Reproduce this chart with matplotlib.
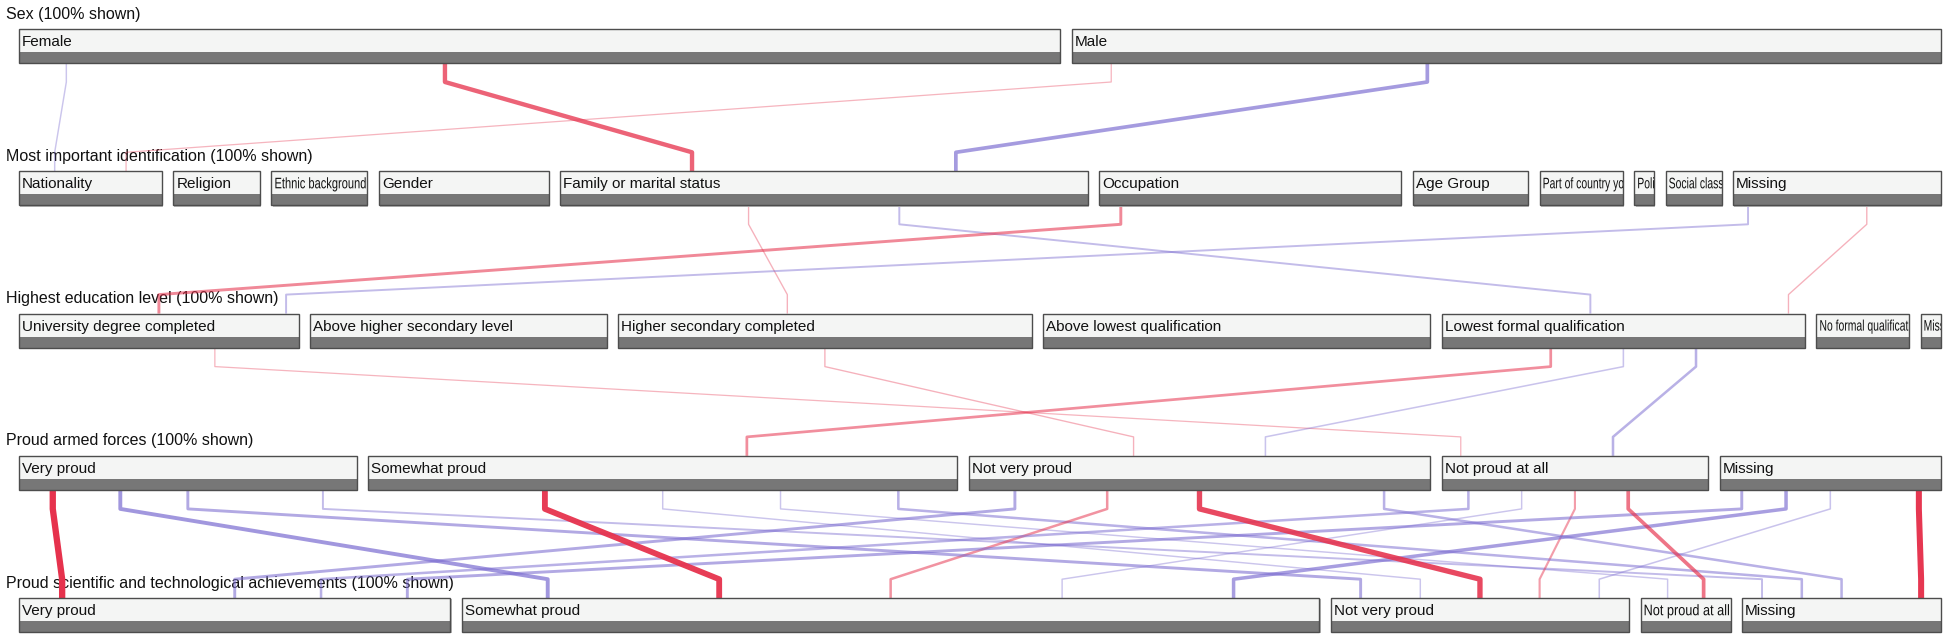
import matplotlib
matplotlib.use("Agg")
import matplotlib.pyplot as plt
from matplotlib.patches import Rectangle
from matplotlib.patheffects import AbstractPathEffect
from matplotlib.transforms import Affine2D
from matplotlib import font_manager

# dimensions (rows) and their categories, values in % of respondents
dims = ["Sex", "Most important identification", "Highest education level",
        "Proud armed forces", "Proud scientific and technological achievements"]

sex_cats = ["Female", "Male"]
sex_pct = [54.5, 45.5]

ident_cats = ["Nationality", "Religion", "Ethnic background", "Gender",
              "Family or marital status", "Occupation", "Age Group",
              "Part of country you live in", "Political party", "Social class", "Missing"]
ident_pct = [7.9, 4.8, 5.3, 9.4, 29.2, 16.7, 6.4, 4.6, 1.1, 3.1, 11.5]

edu_cats = ["University degree completed", "Above higher secondary level",
            "Higher secondary completed", "Above lowest qualification",
            "Lowest formal qualification", "No formal qualification", "Missing"]
edu_pct = [15.1, 16.0, 22.3, 20.9, 19.6, 5.0, 1.1]

armed_cats = ["Very proud", "Somewhat proud", "Not very proud", "Not proud at all", "Missing"]
armed_pct = [18.0, 31.4, 24.6, 14.2, 11.8]

sci_cats = ["Very proud", "Somewhat proud", "Not very proud", "Not proud at all", "Missing"]
sci_pct = [23.0, 45.7, 15.9, 4.8, 10.6]

# strongest links between neighbouring rows: (from, to, residual)
# positive = over-represented (red), negative = under-represented (purple)
links_sex_ident = [
    ("Female", "Nationality", -1.5),
    ("Female", "Family or marital status", 4.5),
    ("Male", "Nationality", 1.3),
    ("Male", "Family or marital status", -3.8),
]
links_ident_edu = [
    ("Family or marital status", "Higher secondary completed", 1.4),
    ("Family or marital status", "Lowest formal qualification", -2.0),
    ("Occupation", "University degree completed", 3.0),
    ("Missing", "University degree completed", -2.0),
    ("Missing", "Lowest formal qualification", 1.4),
]
links_edu_armed = [
    ("University degree completed", "Not proud at all", 1.3),
    ("Higher secondary completed", "Not very proud", 1.4),
    ("Lowest formal qualification", "Somewhat proud", 2.8),
    ("Lowest formal qualification", "Not very proud", -1.6),
    ("Lowest formal qualification", "Not proud at all", -2.6),
]
links_armed_sci = [
    ("Very proud", "Very proud", 6.5),
    ("Very proud", "Somewhat proud", -4.0),
    ("Very proud", "Not very proud", -3.0),
    ("Very proud", "Missing", -2.0),
    ("Somewhat proud", "Somewhat proud", 6.0),
    ("Somewhat proud", "Not very proud", -1.5),
    ("Somewhat proud", "Not proud at all", -1.5),
    ("Somewhat proud", "Missing", -2.6),
    ("Not very proud", "Very proud", -3.0),
    ("Not very proud", "Somewhat proud", 2.6),
    ("Not very proud", "Not very proud", 5.5),
    ("Not very proud", "Missing", -2.6),
    ("Not proud at all", "Very proud", -2.6),
    ("Not proud at all", "Somewhat proud", -1.5),
    ("Not proud at all", "Not very proud", 2.2),
    ("Not proud at all", "Not proud at all", 3.8),
    ("Missing", "Very proud", -3.0),
    ("Missing", "Somewhat proud", -3.6),
    ("Missing", "Not very proud", -1.6),
    ("Missing", "Missing", 6.2),
]

rows = [(sex_cats, sex_pct), (ident_cats, ident_pct), (edu_cats, edu_pct),
        (armed_cats, armed_pct), (sci_cats, sci_pct)]
row_links = [links_sex_ident, links_ident_edu, links_edu_armed, links_armed_sci]

W, H = 1952, 642
X0, X1, GAP = 19, 1941, 11.5
TOP0, STEP, BOX_H, LIGHT_H = 29, 142.3, 34, 23
BEND = 19
RED, PURPLE = "#e6324d", "#7a6bd0"
FS, FS_TITLE = 11, 11.5

names = {f.name for f in font_manager.fontManager.ttflist}
FONT = "Liberation Sans" if "Liberation Sans" in names else "DejaVu Sans"
plt.rcParams["font.family"] = [FONT, "DejaVu Sans"]


class Squeeze(AbstractPathEffect):
    """draw the text glyphs narrower, like a condensed label"""
    def __init__(self, sx):
        super().__init__()
        self.sx = sx

    def draw_path(self, renderer, gc, tpath, affine, rgbFace=None):
        renderer.draw_path(gc, tpath, Affine2D().scale(self.sx, 1) + affine, rgbFace)


def layout(vals):
    n = len(vals)
    avail = (X1 - X0) - GAP * (n - 1)
    tot = sum(vals)
    out, x = [], X0
    for v in vals:
        w = avail * v / tot
        out.append((x, w))
        x += w + GAP
    return out


fig = plt.figure(figsize=(W / 100, H / 100), dpi=100)
ax = fig.add_axes([0, 0, 1, 1])
ax.set_xlim(0, W)
ax.set_ylim(H, 0)
ax.axis("off")
renderer = fig.canvas.get_renderer()

boxes = [layout(vals) for _, vals in rows]
tops = [TOP0 + STEP * i for i in range(len(rows))]

# links
segs = []
for i, links in enumerate(row_links):
    src_cats, tgt_cats = rows[i][0], rows[i + 1][0]
    for a, b, r in links:
        si, ti = src_cats.index(a), tgt_cats.index(b)
        sx, sw = boxes[i][si]
        tx, tw = boxes[i + 1][ti]
        xs = sx + sw * (ti + 0.5) / len(tgt_cats)
        xt = tx + tw * (si + 0.5) / len(src_cats)
        ys = tops[i] + BOX_H
        yt = tops[i + 1]
        segs.append((abs(r), r, [xs, xs, xt, xt], [ys, ys + BEND, yt - BEND, yt]))
for mag, r, xx, yy in sorted(segs, key=lambda s: s[0]):
    ax.plot(xx, yy, color=RED if r > 0 else PURPLE, lw=mag * 0.7,
            alpha=min(1.0, 0.2 + 0.125 * mag), solid_capstyle="butt",
            solid_joinstyle="round", zorder=3)

# boxes, labels, titles
for i, (cats, vals) in enumerate(rows):
    top = tops[i]
    ax.text(6, top - 15, f"{dims[i]} (100% shown)", fontsize=FS_TITLE, va="center",
            ha="left", color="#111111", zorder=2)
    for (x, w), name in zip(boxes[i], cats):
        ax.add_patch(Rectangle((x + 1.2, top + 1.2), w, BOX_H, facecolor="#bbbbbb",
                               edgecolor="none", zorder=4))
        ax.add_patch(Rectangle((x, top), w, LIGHT_H, facecolor="#f4f5f4",
                               edgecolor="none", zorder=5))
        ax.add_patch(Rectangle((x, top + LIGHT_H), w, BOX_H - LIGHT_H,
                               facecolor="#777777", edgecolor="none", zorder=5))
        frame = Rectangle((x, top), w, BOX_H, facecolor="none", edgecolor="#4d4d4d",
                          lw=1.0, zorder=6)
        ax.add_patch(frame)
        t = ax.text(x + 3, top + LIGHT_H / 2 + 1.5, name, fontsize=FS, va="center",
                    ha="left", color="#111111", zorder=7)
        room = w - 4
        tw_ = t.get_window_extent(renderer).width
        if tw_ > room:
            t.set_path_effects([Squeeze(max(0.68, room / tw_))])
            t.set_clip_on(True)
            t.set_clip_path(frame)

fig.savefig("out.png", dpi=100)
